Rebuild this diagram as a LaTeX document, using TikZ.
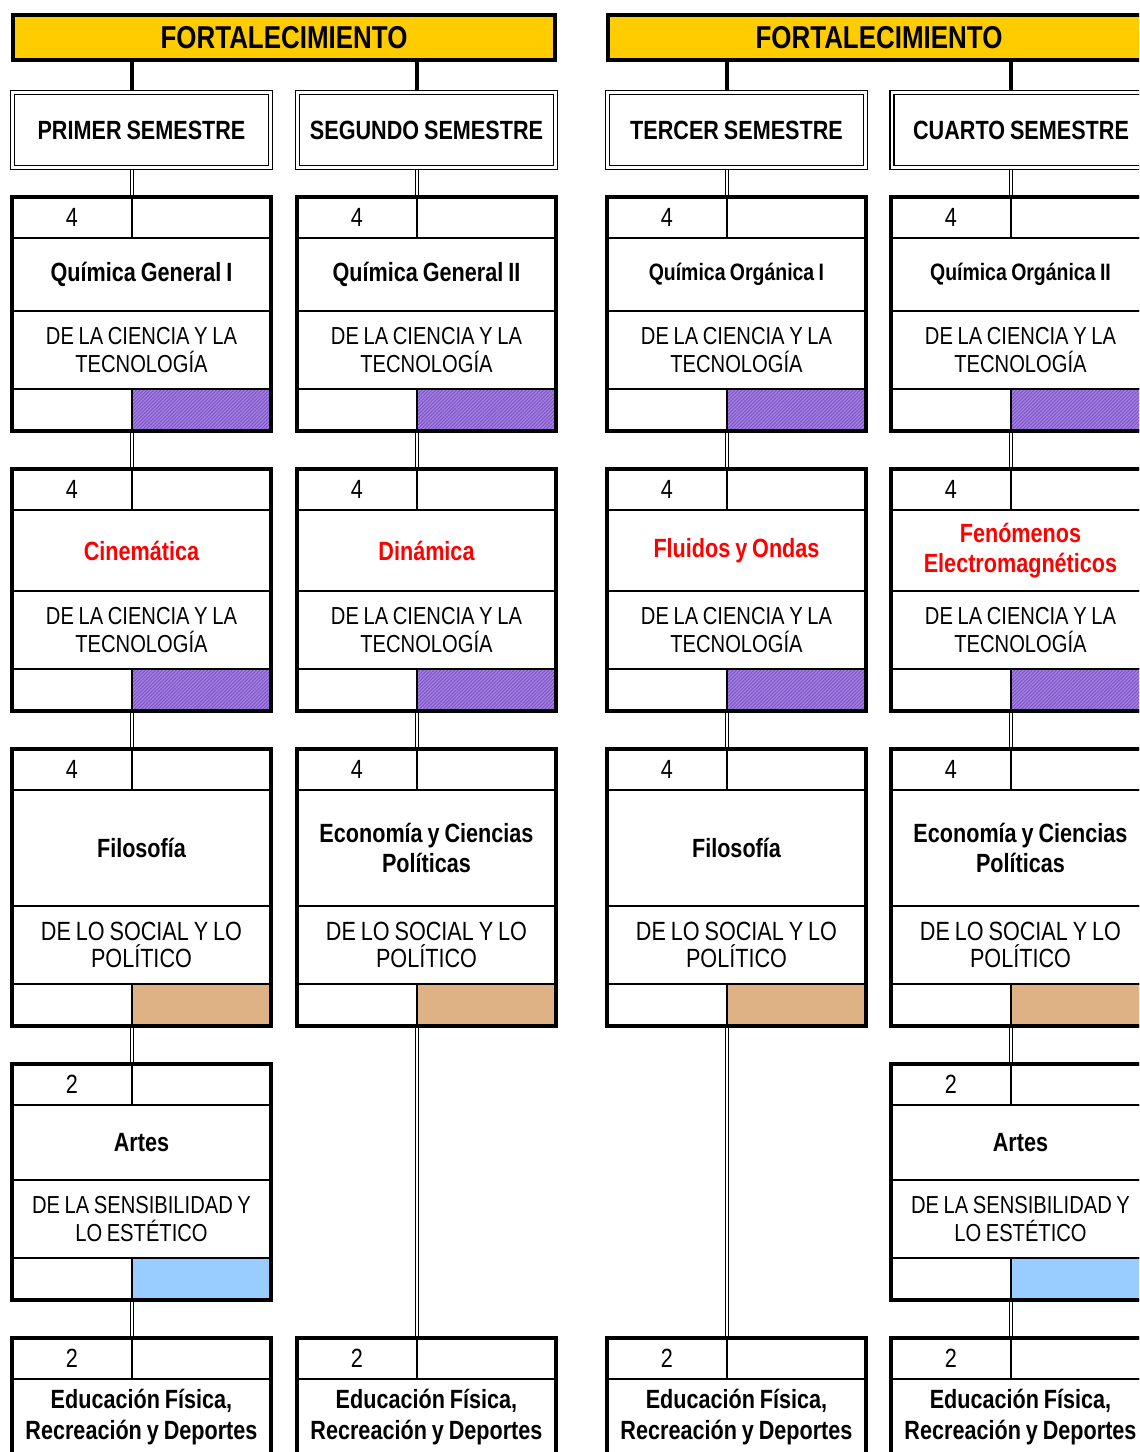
\documentclass[tikz,border=0pt]{standalone}
\usepackage{fontspec}
\setmainfont[FakeStretch=0.82, WordSpace=0.82]{Liberation Sans}
\usetikzlibrary{patterns.meta,backgrounds}

\definecolor{oro}{RGB}{255,204,0}
\definecolor{lila}{RGB}{165,130,225}
\definecolor{lilaoscuro}{RGB}{120,80,195}
\definecolor{arena}{RGB}{222,178,132}
\definecolor{celeste}{RGB}{153,204,255}
\definecolor{rojo}{RGB}{255,0,0}

\newcommand{\grande}{\fontsize{15}{17.3}\selectfont}
\newcommand{\mediano}{\fontsize{14}{15.5}\selectfont}
\newcommand{\chico}{\fontsize{13.5}{15.5}\selectfont}

\tikzset{
  celda/.style={draw, line width=1.1pt, inner sep=0pt, outer sep=0pt, anchor=north west,
    align=flush center, text width=#1, minimum width=#1},
  marco/.style={line width=1.8pt},
  franja/.style={draw, line width=2.3pt, fill=oro, minimum width=10.84cm, minimum height=0.9cm,
    inner sep=0pt, font=\fontsize{18}{20}\selectfont\bfseries},
  semestre/.style={draw, double, line width=0.9pt, double distance=1.2pt, minimum width=5.16cm,
    minimum height=1.5cm, inner sep=0pt, font=\grande\bfseries},
  tronco/.style={line width=2.3pt},
  enlace/.style={double, line width=0.6pt, double distance=1.1pt},
  rayado/.style={preaction={fill=lila}, pattern={Lines[angle=45,distance=1.4pt,line width=0.5pt]},
    pattern color=lilaoscuro},
  social/.style={fill=arena},
  arte/.style={fill=celeste}
}

% #1 nombre, #2 x, #3 y, #4 alto de la materia, #5 creditos, #6 materia
\newcommand{\materia}[6]{
  \node[celda=2.4cm, minimum height=0.82cm, font=\grande] (n#1) at (#2,#3) {#5};
  \node[celda=2.78cm, minimum height=0.82cm] (v#1) at (n#1.north east) {};
  \node[celda=5.18cm, minimum height=#4, font=\grande\bfseries] (m#1) at (n#1.south west) {#6};
}
% #1 nombre, #2 campo, #3 color
\newcommand{\campo}[3]{
  \node[celda=5.18cm, minimum height=1.56cm, font=\mediano] (a#1) at (m#1.south west) {#2};
  \node[celda=2.4cm, minimum height=0.84cm] (b#1) at (a#1.south west) {};
  \node[celda=2.78cm, minimum height=0.84cm, #3] (c#1) at (b#1.north east) {};
  \draw[marco] (n#1.north west) rectangle (c#1.south east);
}

\begin{document}
\begin{tikzpicture}[x=0.02cm, y=-0.02cm]
\path[use as bounding box] (0,0) rectangle (1139,1452);
\clip (0,0) rectangle (1139,1452);

% Franjas
\node[franja] (f1) at (284,37.5) {FORTALECIMIENTO};
\node[franja] (f2) at (879,37.5) {FORTALECIMIENTO};

% Semestres
\node[semestre] (sA) at (141.5,130) {PRIMER SEMESTRE};
\node[semestre] (sB) at (426.5,130) {SEGUNDO SEMESTRE};
\node[semestre] (sC) at (736.5,130) {TERCER SEMESTRE};
\node[semestre] (sD) at (1021,130) {CUARTO SEMESTRE};

% Primer semestre
\materia{A1}{12}{197}{1.46cm}{4}{Química General I}
\campo{A1}{DE LA CIENCIA Y LA\\TECNOLOGÍA}{rayado}
\materia{A2}{12}{469}{1.62cm}{4}{\color{rojo}Cinemática}
\campo{A2}{DE LA CIENCIA Y LA\\TECNOLOGÍA}{rayado}
\materia{A3}{12}{749}{2.32cm}{4}{Filosofía}
\campo{A3}{\grande DE LO SOCIAL Y LO\\POLÍTICO}{social}
\materia{A4}{12}{1064}{1.5cm}{2}{Artes}
\campo{A4}{DE LA SENSIBILIDAD Y\\LO ESTÉTICO}{arte}
\materia{A5}{12}{1338}{1.52cm}{2}{Educación Física,\\Recreación y Deportes}
\draw[marco] (nA5.north west) rectangle (mA5.south east);

% Segundo semestre
\materia{B1}{297}{197}{1.46cm}{4}{Química General II}
\campo{B1}{DE LA CIENCIA Y LA\\TECNOLOGÍA}{rayado}
\materia{B2}{297}{469}{1.62cm}{4}{\color{rojo}Dinámica}
\campo{B2}{DE LA CIENCIA Y LA\\TECNOLOGÍA}{rayado}
\materia{B3}{297}{749}{2.32cm}{4}{Economía y Ciencias\\Políticas}
\campo{B3}{\grande DE LO SOCIAL Y LO\\POLÍTICO}{social}
\materia{B5}{297}{1338}{1.52cm}{2}{Educación Física,\\Recreación y Deportes}
\draw[marco] (nB5.north west) rectangle (mB5.south east);

% Tercer semestre
\materia{C1}{607}{197}{1.46cm}{4}{\chico Química Orgánica I}
\campo{C1}{DE LA CIENCIA Y LA\\TECNOLOGÍA}{rayado}
\materia{C2}{607}{469}{1.62cm}{4}{\color{rojo}Fluidos y Ondas}
\campo{C2}{DE LA CIENCIA Y LA\\TECNOLOGÍA}{rayado}
\materia{C3}{607}{749}{2.32cm}{4}{Filosofía}
\campo{C3}{\grande DE LO SOCIAL Y LO\\POLÍTICO}{social}
\materia{C5}{607}{1338}{1.52cm}{2}{Educación Física,\\Recreación y Deportes}
\draw[marco] (nC5.north west) rectangle (mC5.south east);

% Cuarto semestre
\materia{D1}{891}{197}{1.46cm}{4}{\chico Química Orgánica II}
\campo{D1}{DE LA CIENCIA Y LA\\TECNOLOGÍA}{rayado}
\materia{D2}{891}{469}{1.62cm}{4}{\color{rojo}Fenómenos\\Electromagnéticos}
\campo{D2}{DE LA CIENCIA Y LA\\TECNOLOGÍA}{rayado}
\materia{D3}{891}{749}{2.32cm}{4}{Economía y Ciencias\\Políticas}
\campo{D3}{\grande DE LO SOCIAL Y LO\\POLÍTICO}{social}
\materia{D4}{891}{1064}{1.5cm}{2}{Artes}
\campo{D4}{DE LA SENSIBILIDAD Y\\LO ESTÉTICO}{arte}
\materia{D5}{891}{1338}{1.52cm}{2}{Educación Física,\\Recreación y Deportes}
\draw[marco] (nD5.north west) rectangle (mD5.south east);

% Conexiones
\begin{scope}[on background layer]
\foreach \f/\c in {1/A, 1/B, 2/C, 2/D} {
  \draw[tronco] (f\f.south -| n\c1.north east) -- (s\c.north -| n\c1.north east);
  \draw[enlace] (s\c.south -| n\c1.north east) -- (n\c1.north east);
}
\foreach \a/\b in {A1/A2, A2/A3, A3/A4, A4/A5, B1/B2, B2/B3, B3/B5, C1/C2, C2/C3, C3/C5,
  D1/D2, D2/D3, D3/D4, D4/D5}
  \draw[enlace] (b\a.south east) -- (n\b.north east);
\end{scope}

\end{tikzpicture}
\end{document}
